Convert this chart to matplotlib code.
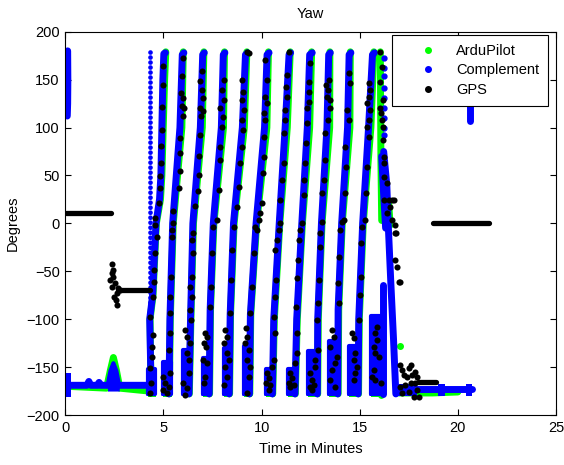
import matplotlib
matplotlib.use("Agg")
import matplotlib.pyplot as plt
from matplotlib.lines import Line2D

plt.rcParams['font.family'] = ['Liberation Sans', 'DejaVu Sans']

GREEN = '#00ff00'
BLUE = '#0000ff'
BLACK = '#000000'

# ---------------- data ----------------
x_ticks = [0, 5, 10, 15, 20, 25]
y_ticks = [-200, -150, -100, -50, 0, 50, 100, 150, 200]
series_names = ['ArduPilot', 'Complement', 'GPS']

# Complement: rising sawtooth strokes, one per turn
comp_rise_x = [
    [4.35, 4.30, 4.45, 4.55, 4.62, 4.80, 4.87, 4.92, 4.97, 5.02, 5.10],
    [5.28, 5.33, 5.47, 5.84, 5.96, 6.04],
    [6.30, 6.38, 6.50, 6.88, 7.00, 7.08],
    [7.33, 7.38, 7.54, 7.95, 8.05, 8.13],
    [8.35, 8.40, 8.57, 9.02, 9.18, 9.28],
    [9.38, 9.43, 9.72, 10.15, 10.28, 10.38],
    [10.55, 10.62, 10.90, 11.20, 11.40, 11.48],
    [11.70, 11.79, 12.05, 12.33, 12.45, 12.58],
    [12.84, 12.86, 13.05, 13.33, 13.42, 13.50],
    [13.88, 13.90, 14.08, 14.38, 14.46, 14.55],
    [14.92, 14.95, 15.15, 15.45, 15.65, 15.75],
]
comp_rise_y = [
    [-150, -100, -75, -30, 0, 25, 50, 100, 150, 177, 178],
    [-178, -100, 0, 100, 176, 178],
    [-178, -100, 0, 100, 176, 178],
    [-178, -90, 0, 100, 176, 178],
    [-178, -95, 0, 100, 176, 178],
    [-178, -95, 0, 100, 176, 178],
    [-178, -100, 0, 100, 176, 178],
    [-178, -100, 0, 100, 176, 178],
    [-178, -100, 0, 100, 176, 178],
    [-178, -90, 0, 100, 176, 178],
    [-178, -100, 0, 100, 176, 178],
]
# Complement: wide clusters at the bottom of each turn
comp_blob_x0 = [4.20, 4.99, 6.00, 7.04, 8.07, 9.12, 10.24, 11.35, 12.37, 13.44, 14.47, 15.59]
comp_blob_x1 = [4.56, 5.40, 6.32, 7.34, 8.36, 9.38, 10.56, 11.68, 12.84, 13.83, 14.90, 16.02]
comp_blob_top = [-152, -145, -132, -140, -130, -128, -152, -152, -133, -123, -128, -97]

# Complement: other pieces
comp_start_x = [0.12, 0.13, 0.12, 0.10]
comp_start_y = [180, 150, 125, 112]
comp_flat1_x = [0.05, 1.10, 1.20, 1.30, 1.65, 1.72, 1.80, 2.10, 2.75, 4.20]
comp_flat1_y = [-169, -169, -165, -169, -169, -166, -169, -169, -169, -169]
comp_bump_x = [2.15, 2.30, 2.45, 2.60, 2.75]
comp_bump_top = [-170, -154, -146, -154, -170]
comp_thick1_x = [0.06, 0.28]
comp_thick1_top = [-156, -156]
comp_spin_x = [4.33, 4.33]
comp_spin_y = [179, -180]
comp_dots_x = [16.22, 16.22, 16.22, 16.22, 16.22, 16.22, 16.22, 16.22, 16.22]
comp_dots_y = [172.5, 162, 153.7, 141, 130.8, 120.4, 110, 99.5, 92]
comp_desc_x = [16.22, 16.38, 16.45, 16.58, 16.72, 16.84]
comp_desc_y = [75, 40, 0, -60, -120, -178]
comp_desc2_x = [16.12, 16.22, 16.32]
comp_desc2_y = [70, 30, -5]
comp_post_x = [16.17, 16.17]
comp_post_y = [-64, -178]
comp_tail_x = [16.85, 20.70]
comp_tail_y = [-173, -173]
comp_tail_blob_x0 = [16.82, 18.99, 20.42]
comp_tail_blob_x1 = [17.93, 19.35, 20.73]
comp_tail_top = [-168, -168, -168]
comp_late_x = [20.60, 20.60]
comp_late_y = [127, 107]

# ArduPilot: rising strokes (lag slightly to the right in the upper half)
ardu_rise_x = [
    [4.35, 4.32, 4.47, 4.57, 4.64, 4.85, 4.92, 4.99, 5.06, 5.12],
    [5.30, 5.35, 5.50, 5.94, 6.01],
    [6.32, 6.40, 6.53, 6.98, 7.06],
    [7.35, 7.40, 7.57, 8.06, 8.11],
    [8.37, 8.42, 8.60, 9.12, 9.25],
    [9.40, 9.45, 9.75, 10.27, 10.35],
    [10.57, 10.65, 10.93, 11.31, 11.46],
    [11.72, 11.82, 12.08, 12.45, 12.55],
    [12.86, 12.89, 13.08, 13.47, 13.48],
    [13.90, 13.93, 14.11, 14.50, 14.52],
    [14.94, 14.98, 15.18, 15.57, 15.72],
]
ardu_rise_y = [
    [-150, -100, -75, -30, 0, 25, 50, 100, 150, 179],
    [-178, -100, 0, 100, 179],
    [-178, -100, 0, 100, 179],
    [-178, -90, 0, 100, 179],
    [-178, -95, 0, 100, 179],
    [-178, -95, 0, 100, 179],
    [-178, -100, 0, 100, 179],
    [-178, -100, 0, 100, 179],
    [-178, -100, 0, 100, 179],
    [-178, -90, 0, 100, 179],
    [-178, -100, 0, 100, 179],
]
ardu_flat1_x = [0.02, 2.10, 2.30, 2.45, 2.60, 2.78, 4.25]
ardu_flat1_y = [-170, -172, -153, -140, -153, -172, -175]
ardu_desc_x = [16.05, 16.08, 16.12]
ardu_desc_y = [179, 65, 3]
ardu_desc2_x = [16.48, 16.55]
ardu_desc2_y = [20, -2]
ardu_post_x = [16.08, 16.08]
ardu_post_y = [-160, -179]
ardu_tail_x = [17.00, 18.70, 20.00]
ardu_tail_y = [-177, -177, -176]
ardu_spot_x = [17.07]
ardu_spot_y = [-128]

# GPS: flat stretches
gps_flat_x = [[0.03, 2.33], [2.70, 4.33], [17.95, 18.90], [18.72, 21.60]]
gps_flat_y = [[10.5, 10.5], [-70, -70], [-166, -166], [0, 0]]
# GPS: individual fixes
gps_bump_x = [2.37, 2.42, 2.45, 2.28, 2.54, 2.37, 2.70, 2.62, 2.59, 2.62, 2.79, 2.40, 2.50]
gps_bump_y = [-42.5, -48.7, -55.7, -59.2, -62.6, -66.1, -67.9, -73.1, -80.1, -85.3, -69.6, -52, -77]
gps_turn_x = [
    [4.97, 4.97, 4.92, 4.92, 4.88, 4.87, 4.83, 4.83, 4.78, 4.58, 4.58, 4.66, 4.58, 4.53, 4.53,
     4.46, 4.29, 4.46, 4.41, 4.41, 4.32, 4.36, 4.32],
    [5.00, 5.09, 4.97, 5.17, 5.26, 5.34, 5.26, 5.31, 5.34, 5.34, 5.38, 5.43, 5.43, 5.48,
     5.51, 5.77, 5.82, 5.82, 5.86, 5.99, 6.06, 5.94, 5.99, 5.89, 5.94, 6.02],
    [6.11, 6.20, 6.33, 6.20, 6.28, 6.28, 6.02, 6.20, 6.11, 6.33, 6.36, 6.40, 6.45, 6.45, 6.45,
     6.50, 6.53, 6.62, 6.74, 6.79, 6.79, 6.84, 6.92, 7.01, 6.87, 7.04, 6.96, 6.87, 6.96],
    [7.13, 7.21, 7.08, 7.18, 7.04, 7.21, 7.13, 7.08, 7.38, 7.42, 7.47, 7.55,
     7.72, 7.81, 7.86, 7.89, 7.98, 8.03, 7.89, 8.06, 7.98, 8.06],
    [8.15, 8.23, 8.11, 8.23, 8.32, 8.15, 8.23, 8.07, 8.40, 8.44, 8.49, 8.57,
     8.74, 8.83, 8.91, 9.00, 9.05, 9.00, 9.08, 9.00, 9.05, 9.00, 9.26, 9.34],
    [9.22, 9.26, 9.17, 9.34, 9.26, 9.42, 9.34, 9.26, 9.42, 9.51, 9.59, 9.68,
     9.77, 9.85, 9.93, 10.02, 10.07, 10.10, 10.14, 10.19, 10.10, 10.27, 10.19, 10.27, 10.19],
    [10.28, 10.36, 10.24, 10.44, 10.36, 10.53, 10.61, 10.61, 10.70, 10.70, 10.75, 10.70, 10.79,
     10.87, 10.92, 10.95, 11.04, 11.12, 11.12, 11.21, 11.21, 11.30, 11.26, 11.30, 11.38],
    [11.46, 11.55, 11.38, 11.63, 11.46, 11.72, 11.80, 11.80, 11.77, 11.80, 11.84, 11.89, 11.97,
     12.06, 12.14, 12.18, 12.23, 12.28, 12.32, 12.32, 12.40, 12.40, 12.40, 12.48],
    [12.48, 12.57, 12.48, 12.65, 12.57, 12.74, 12.74, 12.86, 12.83, 12.86, 12.91, 12.96, 13.00,
     13.08, 13.08, 13.16, 13.24, 13.24, 13.36, 13.47, 13.50, 13.33, 13.36, 13.30, 13.42],
    [13.59, 13.67, 13.50, 13.84, 13.76, 13.59, 13.50, 13.76, 13.93, 13.88, 13.93, 14.01, 14.10,
     14.18, 14.27, 14.32, 14.27, 14.44, 14.35, 14.52, 14.44],
    [14.61, 14.69, 14.78, 14.69, 14.86, 14.78, 14.69, 14.95, 15.00, 15.05, 15.08, 15.12,
     15.29, 15.34, 15.38, 15.46, 15.38, 15.46, 15.54, 15.38, 15.46, 15.54, 15.46],
    [15.89, 15.80, 15.89, 15.71, 15.80, 15.97, 15.71, 15.63, 15.80, 16.06,
     16.05, 16.14, 16.05, 16.19, 16.05, 16.09, 16.14, 16.19, 16.19, 16.22, 16.22, 16.26, 16.40,
     16.26, 16.48, 16.65, 16.40, 16.56, 16.65, 16.82, 16.73, 16.82, 16.87, 16.82, 16.90, 16.99, 17.07],
    [17.07, 17.16, 17.59, 17.50, 17.24, 17.42, 17.67, 17.84, 17.93, 17.07, 17.33, 17.59, 17.84,
     17.16, 17.50, 17.93, 18.01, 17.76],
]
gps_turn_y = [
    [163.9, 144.7, 121.4, 97.7, 80.4, 63, 49, 36.8, 21.2, 5.5, -1.5, -14, -31.3, -48.7, -61,
     -76.6, -97.5, -116.6, -128.8, -139.2, -151.4, -167, -177],
    [-160, -167, -174, -177.5, -170.6, -156.6, -132, -114.8, -94, -76.6, -55.7, -14, -7, 0,
     12.5, 36.8, 54.3, 73.4, 89, 111.7, 120.4, 122, 130.8, 136, 153.4, 172.5],
    [-111.3, -118.3, -125.3, -135.7, -142.7, -156.6, -167, -172.3, -179, -90.5, -66.1, -101, -76.6,
     -55.7, -17.4, -31.3, -10.4, 17.7, 33.4, 50.7, 70, 92.5, 111.7, 116.9, 120.4, 130.8, 139.5,
     148.2, 158.6],
    [-114.8, -118.3, -125.3, -128.8, -142.7, -146.1, -160, -167, -87, -66.1, -31.3, -3.5,
     3.4, 34.8, 66.1, 79.9, 100.8, 111.3, 120, 128.7, 139.1, 149.6],
    [-111.3, -118.3, -125.3, -135.7, -142.7, -149.7, -160, -168.8, -94, -59.2, -27.9, -3.5,
     17.3, 38.2, 62.6, 79.9, 97.4, 107.8, 118.3, 128.7, 137.4, 149.6, 179.1, 177.5],
    [-109.6, -118.3, -125.3, -132.2, -142.7, -149.7, -160, -177.5, -94, -66.1, -31.3, -3.5,
     -7, 3.4, 10.4, 20.9, 52.2, 69.5, 90.4, 107.8, 114.8, 125.3, 132.2, 149.6, 170.5],
    [-156.6, -161.8, -167, -168.8, -174, -149.7, -142.7, -97.5, -114.8, -76.6, -59.2, -27.9, -17.4,
     -7, 0, 24.3, 45.2, 62.6, 94, 107.8, 118.3, 132.2, 142.6, 154.8, 179],
    [-156.6, -161.8, -167, -168.8, -170.6, -146.1, -135.7, -114.8, -87, -57.4, -38.3, -17.4, -7,
     0, 29.5, 45.2, 62.6, 83.5, 104.4, 120, 127, 137.4, 147.8, 167],
    [-156.6, -163.5, -170.6, -168.8, -174, -149.7, -142.7, -132.2, -101, -83.5, -59.2, -24.4, -10.4,
     1.8, 31.3, 45.2, 66.1, 94, 107.8, 120, 128.7, 132.2, 139.1, 144.4, 149.6],
    [-111.3, -118.3, -128.8, -139.2, -146.1, -153.1, -163.5, -170.6, -83.5, -62.6, -34.8, -7, 1.8,
     3.4, 31.3, 59.1, 80, 107.8, 118.3, 146.1, 156.5],
    [-114.8, -120, -135.7, -142.7, -149.7, -156.6, -163.5, -101, -74.8, -55.7, -20.9, -3.5,
     3.4, 31.3, 59.1, 90.4, 100.8, 107.8, 118.3, 125.3, 132.2, 139.1, 146.1],
    [-107.9, -114.8, -121.8, -128.8, -135.7, -139.2, -153.1, -160, -163.5, -167,
     179, 163.5, 147.8, 128.7, 120, 114.8, 107.8, 100.8, 87, 69.5, 62.6, 48.7, 41.7,
     24.3, 24.3, 24.3, 10.4, 17.3, 3.4, -10.4, 24.3, -1.8, -10.4, -38.3, -45.2, -60.9, -60.9],
    [-147.9, -153.1, -147.9, -151.4, -158.4, -160.1, -158.4, -154.9, -160.1, -170.6, -168.8, -167,
     -167, -177.5, -175.8, -174, -181, -181],
]

# ---------------- drawing ----------------
LW = 5.0
fig = plt.figure(figsize=(5.64, 4.65), dpi=100)
ax = fig.add_axes([65.3 / 564, 1 - 415 / 465, (556 - 65.3) / 564, (415 - 31.7) / 465])


def stroke(x, y, color, z, lw=LW, **kw):
    ax.plot(x, y, color=color, lw=lw, solid_capstyle='round', solid_joinstyle='round',
            zorder=z, **kw)


# ArduPilot (green)
for xs, ys in zip(ardu_rise_x, ardu_rise_y):
    stroke(xs, ys, GREEN, 1)
for x0, x1, top in zip(comp_blob_x0, comp_blob_x1, comp_blob_top):
    ax.fill_between([x0, x1 + 0.05], -181, top, color=GREEN, lw=0, zorder=1)
stroke(ardu_flat1_x, ardu_flat1_y, GREEN, 1)
stroke(ardu_desc_x, ardu_desc_y, GREEN, 1)
stroke(ardu_desc2_x, ardu_desc2_y, GREEN, 1)
stroke(ardu_post_x, ardu_post_y, GREEN, 1)
stroke(ardu_tail_x, ardu_tail_y, GREEN, 1)
ax.plot(ardu_spot_x, ardu_spot_y, 'o', color=GREEN, ms=4, zorder=1)

# Complement (blue)
for xs, ys in zip(comp_rise_x, comp_rise_y):
    stroke(xs, ys, BLUE, 2)
for x0, x1, top in zip(comp_blob_x0, comp_blob_x1, comp_blob_top):
    stroke([x0, x0, x1, x1, x0], [-178, top, top, -178, -178], BLUE, 2, lw=3)
    ax.fill_between([x0, x1], -178, top, color=BLUE, lw=0, zorder=2)
stroke(comp_start_x, comp_start_y, BLUE, 2)
stroke(comp_flat1_x, comp_flat1_y, BLUE, 2)
ax.fill_between(comp_bump_x, -175, comp_bump_top, color=BLUE, lw=0, zorder=2)
stroke(comp_bump_x, comp_bump_top, BLUE, 2, lw=3)
ax.fill_between(comp_thick1_x, -181, comp_thick1_top, color=BLUE, lw=0, zorder=2)
ax.plot(comp_spin_x, comp_spin_y, color=BLUE, lw=3.4, dash_capstyle='round',
        linestyle=(0, (0.01, 1.05)), zorder=2)
ax.plot(comp_dots_x, comp_dots_y, 'o', color=BLUE, ms=3.5, zorder=2)
stroke(comp_desc_x, comp_desc_y, BLUE, 2)
stroke(comp_desc2_x, comp_desc2_y, BLUE, 2)
stroke(comp_post_x, comp_post_y, BLUE, 2)
stroke(comp_tail_x, comp_tail_y, BLUE, 2)
for x0, x1, top in zip(comp_tail_blob_x0, comp_tail_blob_x1, comp_tail_top):
    ax.fill_between([x0, x1], -180, top, color=BLUE, lw=0, zorder=2)
stroke(comp_late_x, comp_late_y, BLUE, 2)

# GPS (black)
for xs, ys in zip(gps_flat_x, gps_flat_y):
    stroke(xs, ys, BLACK, 3, lw=3.8)
ax.plot(gps_bump_x, gps_bump_y, 'o', color=BLACK, ms=4.4, mew=0, zorder=3)
for xs, ys in zip(gps_turn_x, gps_turn_y):
    ax.plot(xs, ys, 'o', color=BLACK, ms=4.4, mew=0, zorder=3)

ax.set_xlim(0, 25)
ax.set_ylim(-200, 200)
ax.set_xticks(x_ticks)
ax.set_yticks(y_ticks)
ax.tick_params(direction='in', top=True, right=True, length=4, labelsize=10.5, pad=4)
for sp in ax.spines.values():
    sp.set_linewidth(0.8)

ax.set_title('Yaw', fontsize=10.5, pad=10)
ax.set_xlabel('Time in Minutes', fontsize=10.5, labelpad=5)
ax.set_ylabel('Degrees', fontsize=10.5, labelpad=5)

handles = [Line2D([], [], marker='.', linestyle='none', color=c, markersize=8)
           for c in (GREEN, BLUE, BLACK)]
leg = ax.legend(handles, series_names, loc='upper right', bbox_to_anchor=(0.9837, 0.9914),
                borderaxespad=0, fancybox=False, framealpha=1, edgecolor='black',
                fontsize=10.5, handlelength=3.7, handletextpad=0.1, borderpad=0.6,
                labelspacing=0.38)
leg.get_frame().set_linewidth(0.8)
leg.set_zorder(10)

fig.savefig('out.png', dpi=100)
